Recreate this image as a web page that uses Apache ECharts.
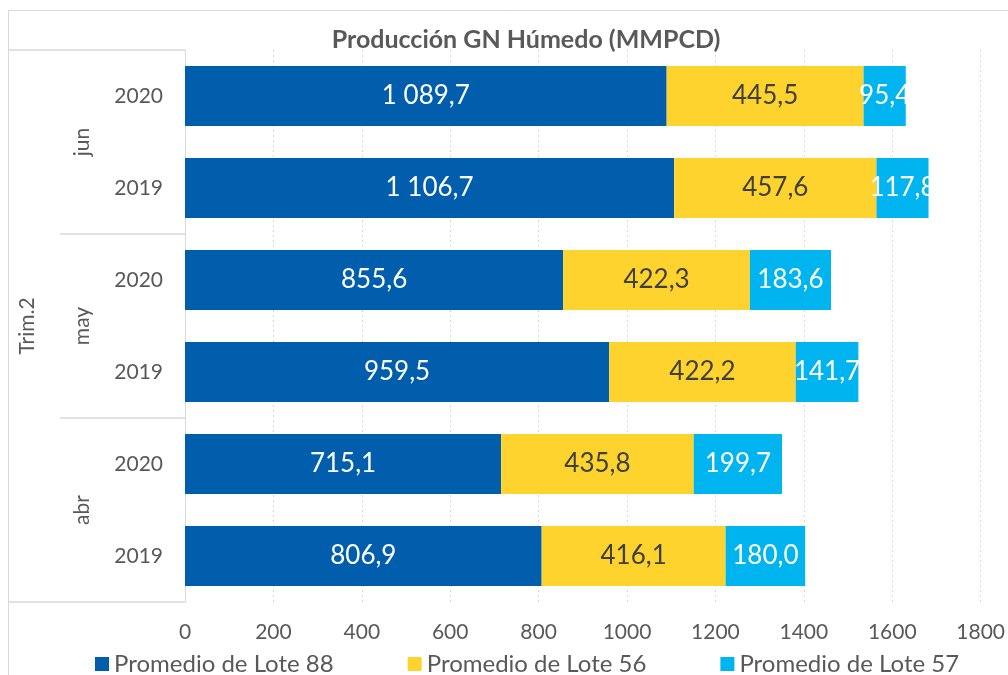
<!DOCTYPE html>
<html><head><meta charset="utf-8">
<script src="https://cdn.jsdelivr.net/npm/echarts@6/dist/echarts.min.js"></script>
<style>html,body{margin:0;padding:0;background:#fff}#c{width:1008px;height:675px}</style>
</head><body><div id="c"></div>
<script>
const years = ['2020','2019','2020','2019','2020','2019'];
const months = ['jun','may','abr'];
const quarter = ['Trim.2'];
const seriesNames = ['Promedio de Lote 88','Promedio de Lote 56','Promedio de Lote 57'];
const lote88 = [1089.7, 1106.7, 855.6, 959.5, 715.1, 806.9];
const lote56 = [445.5, 457.6, 422.3, 422.2, 435.8, 416.1];
const lote57 = [95.4, 117.8, 183.6, 141.7, 199.7, 180.0];
const xTicks = [0, 200, 400, 600, 800, 1000, 1200, 1400, 1600, 1800];
const colors = ['#005EAC', '#FFD32D', '#00B5EF'];
const labelColors = ['#ffffff', '#404040', '#ffffff'];

const FONT = 'Lato';
const GRAY = '#595959';
function fmt(v){
  const s = v.toFixed(1).split('.');
  const int = s[0].replace(/\B(?=(\d{3})+(?!\d))/g, ' ');
  return int + ',' + s[1];
}
const chart = echarts.init(document.getElementById('c'));
const values = [lote88, lote56, lote57];
chart.setOption({
  animation: false,
  textStyle: {fontFamily: FONT},
  graphic: [{type:'rect', shape:{x:8.5, y:10.5, width:1010, height:700}, style:{fill:'none', stroke:'#d9d9d9', lineWidth:1}, silent:true}],
  title: {text: 'Producción GN Húmedo (MMPCD)', left: 521, top: 22, textAlign: 'center',
    textStyle: {fontFamily: FONT, fontWeight: 'bold', fontSize: 25, color: GRAY}},
  legend: {left: 90, top: 647, itemWidth: 14, itemHeight: 14, itemGap: 74, icon: 'rect',
    textStyle: {fontFamily: FONT, fontSize: 24, color: GRAY}, data: seriesNames},
  grid: {left: 185, right: 27, top: 50, bottom: 73},
  xAxis: {type: 'value', min: xTicks[0], max: xTicks[xTicks.length-1], interval: 200,
    axisLine: {show: false}, axisTick: {show: false},
    axisLabel: {fontFamily: FONT, fontSize: 21, color: GRAY, margin: 20, formatter: v => String(v)},
    splitLine: {show: true, lineStyle: {color: '#d9d9d9', type: [2, 3], width: 1}}},
  yAxis: [
    {type: 'category', data: years, inverse: true, position: 'left',
      axisLine: {show: true, lineStyle: {color: '#d9d9d9'}}, axisTick: {show: false},
      axisLabel: {fontFamily: FONT, fontSize: 21, color: GRAY, margin: 22}},
    {type: 'category', data: months, inverse: true, position: 'left', gridIndex: 0,
      axisLine: {show: false},
      axisTick: {show: true, length: 125, lineStyle: {color: '#d9d9d9', width: 1.5}},
      axisLabel: {fontFamily: FONT, fontSize: 21, color: GRAY, rotate: 90, margin: 92}},
    {type: 'category', data: quarter, inverse: true, position: 'left', gridIndex: 0,
      axisLine: {show: false},
      axisTick: {show: true, length: 177, lineStyle: {color: '#d9d9d9', width: 1.5}},
      axisLabel: {fontFamily: FONT, fontSize: 21, color: GRAY, rotate: 90, margin: 147}}
  ],
  series: seriesNames.map((n, i) => ({
    name: n, type: 'bar', stack: 'total', yAxisIndex: 0, barCategoryGap: '35%',
    data: values[i],
    itemStyle: {color: colors[i]},
    label: {show: true, position: 'inside', fontFamily: FONT, fontSize: 26, color: labelColors[i],
      formatter: p => fmt(p.value)}
  }))
});
</script></body></html>
